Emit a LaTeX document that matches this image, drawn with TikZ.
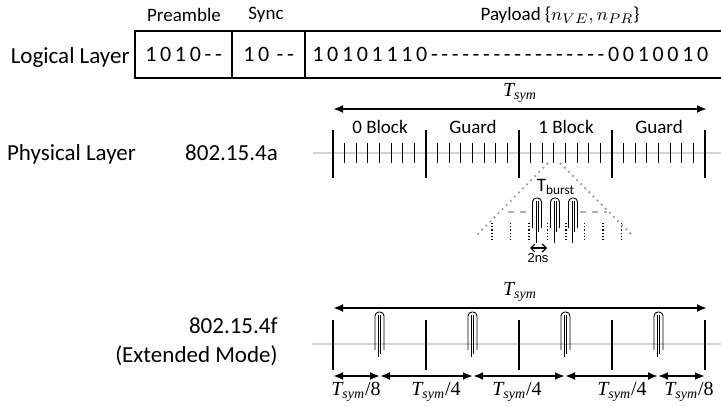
\documentclass[tikz,border=0pt]{standalone}
\usepackage{fontspec}
\setmainfont{Carlito}
\newfontfamily\tnr{Liberation Serif}
\newfontfamily\arl{Liberation Sans}
\newfontfamily\bitfont[WordSpace=0.74]{Carlito}
\usetikzlibrary{arrows.meta,positioning}
\newcommand{\tsym}{{\tnr\itshape T\textsubscript{sym}}}
\tikzset{
    lyr/.style={font=\fontsize{11.5}{13}\selectfont, inner sep=0pt},
    hdr/.style={font=\fontsize{9.5}{11}\selectfont, inner sep=0pt},
    bits/.style={font=\bitfont\fontsize{11}{12}\selectfont, inner sep=0pt},
    field/.style={rectangle, draw, line width=1pt, minimum height=23.5pt,
                  outer sep=0pt, inner sep=0pt, bits},
    dimarr/.style={{Latex[length=5pt,width=4pt]}-{Latex[length=5pt,width=4pt]}, line width=1pt},
    dimlbl/.style={font=\tnr\fontsize{10}{11}\selectfont, inner sep=0pt},
    axis/.style={gray!35, line width=1pt},
    bigtick/.style={line width=1.1pt},
    smalltick/.style={line width=0.5pt},
    zoomline/.style={gray!75, dotted, line width=0.9pt},
    pics/pulse/.style={code={
        \draw[line width=0.45pt, rounded corners=2pt] (-4.5,#1) -- (-4.5,0) -- (4.5,0) -- (4.5,#1);
        \draw[line width=0.45pt] (-1,3) -- (-1,45) (1,3) -- (1,#1+4);
    }},
}

\begin{document}
\begin{tikzpicture}[x=0.5pt, y=-0.5pt]
    \useasboundingbox (0,0) rectangle (721,406);

    % logical layer
    \node[field, minimum width=48.5pt] (pre) at (183.5,54.5) {1 0 1 0 - -};
    \node[field, minimum width=36.5pt, right=0pt of pre] (sync) {1 0 \,- -};
    \node[field, minimum width=230pt, right=0pt of sync] (pay) {};
    \node[bits, anchor=west] (paybits) at ([xshift=3.5pt]pay.west)
        {1 0 1 0 1 1 1 0 - - - - - - - - - - - - - - - - - 0 0 1 0 0 1 0};
    \node[lyr, anchor=base east] (logic) at (130,64) {Logical Layer};
    \node[hdr] (prelbl)  at (184,15) {Preamble};
    \node[hdr] (synclbl) at (266,15) {Sync};
    \node[hdr] (paylbl)  at (560,15) {Payload \{$n_{VE}, n_{PR}$\}};

    % physical layer, 802.15.4a
    \node[lyr, anchor=base] (phys) at (71.5,161)  {Physical Layer};
    \node[lyr, anchor=base] (stda) at (231.5,161) {802.15.4a};
    \coordinate (ta) at (333,109);
    \coordinate (tb) at (707,109);
    \draw[dimarr] (ta) -- node[dimlbl, above=2.5pt] (tsyma) {\tsym} (tb);
    \draw[axis] (313,153) -- (721,153);
    \foreach \t [count=\k from 0] in {0 Block, Guard, 1 Block, Guard}
        \node[hdr] (blk\k) at (380+93*\k,127) {\t};
    \foreach \k in {0,...,4}
        \draw[bigtick] (333+93*\k,130) -- ++(0,48);
    \foreach \k in {0,...,3}
        \foreach \j in {1,...,7}
            \draw[smalltick] ({333+93*\k+11.625*\j},143) -- ++(0,20);

    % burst zoom
    \draw[zoomline] (548,163) -- (475,237);
    \draw[zoomline] (560,163) -- (632,235);
    \draw[gray!60, dashed, line width=1pt] (508,212) -- (530,212);
    \draw[gray!60, dashed, line width=1pt] (580,212) -- (607,212);
    \foreach \i in {0,...,7}
        \draw[densely dotted, line width=0.6pt] ({492+18.5*\i},223) -- ++(0,19);
    \foreach \c in {537,555,573}
        \pic at (\c,198) {pulse=30};
    \node[font=\fontsize{9.5}{10}\selectfont, inner sep=0pt] (tburst) at (556,187) {T\textsubscript{burst}};
    \coordinate (nsa) at (530,248);
    \coordinate (nsb) at (547,248);
    \draw[{Straight Barb[length=2pt]}-{Straight Barb[length=2pt]}, line width=0.6pt] (nsa) -- (nsb);
    \node[font=\arl\fontsize{6.5}{7}\selectfont, inner sep=0pt] (ns) at (538,258) {2ns};

    % 802.15.4f extended mode
    \node[lyr, anchor=base east] (stdf) at (278,333) {802.15.4f};
    \node[lyr, anchor=base east] (ext)  at (278,362) {(Extended Mode)};
    \coordinate (fa) at (333,308);
    \coordinate (fb) at (707,308);
    \draw[dimarr] (fa) -- node[dimlbl, above=2.5pt] (tsymf) {\tsym} (fb);
    \draw[axis] (312,344) -- (721,344);
    \foreach \k in {0,...,4}
        \draw[bigtick] (333+93*\k,320) -- ++(0,50);
    \foreach \k in {0,...,3}
        \pic at (379.5+93*\k,312) {pulse=38};
    \foreach \n/\x in {0/333,1/380,2/473,3/565,4/658,5/705}
        \coordinate (b\n) at (\x,376);
    \foreach \a/\b/\d/\lx in {0/1/8/356, 1/2/4/436, 2/3/4/517, 3/4/4/622, 4/5/8/689} {
        \draw[dimarr] (b\a) -- (b\b);
        \node[dimlbl] (frac\a) at (\lx,392) {\tsym/\d};
    }
\end{tikzpicture}
\end{document}
